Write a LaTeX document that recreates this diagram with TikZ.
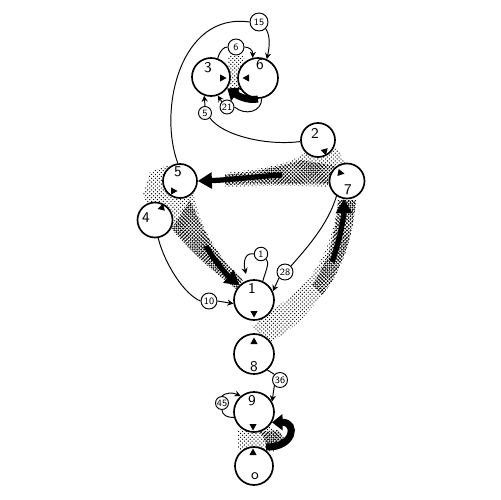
\documentclass[tikz,border=0pt]{standalone}
\usetikzlibrary{patterns,arrows.meta}
\pgfdeclarepatternformonly{stipl}{\pgfqpoint{-0.1pt}{-0.1pt}}{\pgfqpoint{2.3pt}{2.3pt}}{\pgfqpoint{2.2pt}{2.2pt}}{%
  \pgfpathcircle{\pgfqpoint{0.5pt}{0.5pt}}{0.38pt}\pgfpathcircle{\pgfqpoint{1.6pt}{1.6pt}}{0.38pt}\pgfusepath{fill}}
\pgfdeclarepatternformonly{stipd}{\pgfqpoint{-0.1pt}{-0.1pt}}{\pgfqpoint{2.1pt}{2.1pt}}{\pgfqpoint{2pt}{2pt}}{%
  \pgfpathcircle{\pgfqpoint{0.5pt}{0.5pt}}{0.55pt}\pgfpathcircle{\pgfqpoint{1.5pt}{1.5pt}}{0.55pt}\pgfusepath{fill}}
\newcommand\mytri[3]{\fill[shift={(#1,#2)},rotate=#3] (3.5,0) -- (-3,3.6) -- (-3,-3.6) -- cycle;}
\begin{document}
\begin{tikzpicture}[x=0.02cm,y=-0.02cm,
  bignode/.style={circle,draw,line width=0.95pt,fill=white,inner sep=0pt},
  lab/.style={circle,draw,line width=0.55pt,fill=white,inner sep=0pt,minimum size=0.3cm,font=\sffamily\fontsize{5.5}{6}\selectfont},
  dig/.style={font=\sffamily\fontsize{8.5}{9}\selectfont,inner sep=0pt},
  thinline/.style={line width=0.55pt},
  arr/.style={line width=0.55pt,-{Stealth[length=3.5pt,width=3.5pt]}},
  stip/.style={pattern=stipl,pattern color=black},
  stipdark/.style={pattern=stipd,pattern color=black},
  fat/.style={line width=3pt,-{Triangle[length=8pt,width=9pt]}},
  hook/.style={line width=4pt,-{Triangle[length=6pt,width=9pt]}}]
\useasboundingbox (0,0) rectangle (500,500);
% stippled regions
\fill[stip] (306,152) .. controls (290,165) and (255,170) .. (225,173) -- (225,187) .. controls (270,185) and (310,186) .. (335,187) -- (348,168) -- (338,150) -- (320,140) -- cycle;
\fill[stipdark] (300,160) .. controls (280,168) and (250,172) .. (225,175) -- (225,185) .. controls (270,183) and (310,184) .. (332,184) -- (336,166) -- cycle;
\fill[stip] (168,165) -- (150,172) -- (143,195) -- (150,210) -- (171,228) .. controls (190,252) and (212,270) .. (236,289) -- (243,280) .. controls (215,255) and (200,225) .. (194,194) -- cycle;
\fill[stipdark] (172,228) .. controls (190,252) and (212,270) .. (236,289) -- (243,280) .. controls (215,255) and (202,228) .. (190,200) -- cycle;
\fill[stip] (252,326) -- (270,310) .. controls (310,290) and (333,250) .. (338,200) -- (356,200) .. controls (352,260) and (315,320) .. (268,343) -- cycle;
\fill[stipdark] (312,285) .. controls (328,262) and (336,235) .. (338,200) -- (356,200) .. controls (353,240) and (340,275) .. (322,295) -- cycle;
\fill[stip] (238,430) -- (270,427) -- (285,438) -- (276,452) -- (238,450) -- cycle;
\fill[stipdark] (260,432) -- (278,430) -- (285,440) -- (270,450) -- cycle;
\fill[stip] (228,56) -- (244,56) -- (246,92) -- (230,93) -- cycle;
% circles
\node[bignode,minimum size=0.76cm] (n3) at (211,77) {};
\node[bignode,minimum size=0.8cm] (n6) at (258,78) {};
\node[bignode,minimum size=0.68cm] (n2) at (318,140) {};
\node[bignode,minimum size=0.70cm] (n7) at (347,181) {};
\node[bignode,minimum size=0.68cm] (n5) at (180,181) {};
\node[bignode,minimum size=0.70cm] (n4) at (155,220) {};
\node[bignode,minimum size=0.8cm] (n1) at (254,300) {};
\node[bignode,minimum size=0.8cm] (n8) at (254,354) {};
\node[bignode,minimum size=0.8cm] (n9) at (254,412) {};
\node[bignode,minimum size=0.76cm] (n0) at (254,466) {};
% digits
\node[dig] (t3) at (208,68) {3};
\node[dig] (t6) at (260,65) {6};
\node[dig] (t2) at (315,133) {2};
\node[dig] (t7) at (348,190) {7};
\node[dig] (t5) at (178,172) {5};
\node[dig] (t4) at (146,218) {4};
\node[dig] (t1) at (252,288) {1};
\node[dig] (t8) at (254,367) {8};
\node[dig] (t9) at (252,401) {9};
\node[dig] (t0) at (255,476) {o};
% triangles
\mytri{223}{78}{0}
\mytri{246}{78}{180}
\mytri{325}{152}{-75}
\mytri{341}{173}{-10}
\mytri{174}{191}{0}
\mytri{161}{208}{195}
\mytri{254}{314}{-90}
\mytri{254}{341}{90}
\mytri{253}{427}{-90}
\mytri{253}{452}{90}
% small labels
\node[lab,minimum size=0.36cm] (l15) at (259,22) {15};
\node[lab,minimum size=0.32cm] (l6a) at (236,47) {6};
\node[lab,minimum size=0.28cm] (l21) at (227,107) {21};
\node[lab,minimum size=0.26cm] (l5) at (205,113) {5};
\node[lab,minimum size=0.27cm] (l1) at (261,254) {1};
\node[lab,minimum size=0.32cm] (l28) at (285,272) {28};
\node[lab,minimum size=0.32cm] (l10) at (209,301) {10};
\node[lab,minimum size=0.3cm] (l36) at (280,380) {36};
\node[lab,minimum size=0.26cm] (l45) at (222,403) {45};
% thin connectors
\draw[thinline] (n5.97) .. controls (158,110) and (180,12) .. (l15.west);
\draw[arr] (l15.south east) .. controls (270,35) and (270,45) .. (n6.65);
\draw[thinline] (n3.70) .. controls (220,50) and (224,47) .. (l6a.west);
\draw[arr] (l6a.east) .. controls (249,47) and (253,50) .. (n6.105);
\draw[thinline] (n2.185) .. controls (265,146) and (222,135) .. (l5.south east);
\draw[arr] (l5.north) -- (n3.250);
\draw[thinline] (n6.280) .. controls (262,112) and (245,116) .. (l21.east);
\draw[arr] (l21.north west) -- (n3.290);
\coordinate (c1) at (246,274);
\draw[thinline] (n1.65) .. controls (266,270) and (270,262) .. (l1.south east);
\draw[arr] (l1.west) .. controls (245,252) and (243,262) .. (c1);
\draw[thinline] (n7.235) .. controls (328,225) and (305,250) .. (l28.north east);
\draw[arr] (l28.south west) -- (n1.25);
\draw[thinline] (n4.280) .. controls (165,265) and (185,295) .. (l10.west);
\draw[arr] (l10.east) -- (n1.190);
\draw[thinline] (n8.310) -- (l36.north west);
\draw[arr] (l36.south west) -- (n9.30);
\draw[thinline] (n9.195) .. controls (228,418) and (222,415) .. (l45.south);
\draw[arr] (l45.north) .. controls (225,393) and (232,392) .. (n9.130);
% thick arrows
\coordinate (a0) at (282,175);
\draw[fat] (a0) .. controls (260,176) and (230,180) .. (n5.east);
\coordinate (b0) at (206,246);
\draw[fat] (b0) .. controls (215,262) and (228,276) .. (n1.135);
\coordinate (c0) at (332,262);
\draw[fat] (c0) .. controls (340,240) and (344,215) .. (n7.260);
\coordinate (d0) at (266,447);
\draw[hook] (d0) .. controls (294,448) and (298,422) .. (n9.330);
\coordinate (e0) at (258,99);
\draw[hook] (e0) .. controls (248,101) and (238,96) .. (n3.325);
\end{tikzpicture}
\end{document}
